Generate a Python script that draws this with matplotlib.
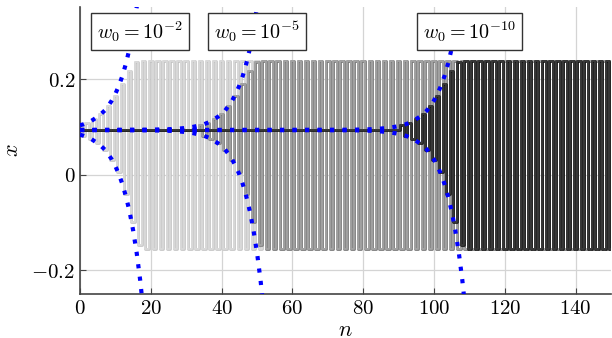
import numpy as np
import matplotlib
matplotlib.use('Agg')
import matplotlib.pyplot as plt
import matplotlib.patheffects as pe
from matplotlib.ticker import FuncFormatter

plt.rcParams['mathtext.fontset'] = 'cm'
plt.rcParams['font.family'] = ['DejaVu Serif']

# --- data ---
n_max = 150
x_fixed = 0.094                 # fixed point
orbit = [0.238, -0.155]         # period-2 orbit after saturation
# trajectory values from the step where it leaves the fixed point
transition = [0.104, 0.082, 0.109, 0.076, 0.117, 0.066, 0.128, 0.053,
              0.145, 0.032, 0.165, 0.005, 0.190, -0.040, 0.217, -0.100,
              0.236, -0.147, 0.238, -0.155]
traj_start = [0, 34, 91]
traj_colors = ['#dadada', '#a4a4a4', '#3a3a3a']
traj_edges = ['#c2c2c2', '#7a7a7a', '#111111']
labels = [r'$w_0 = 10^{-2}$', r'$w_0 = 10^{-5}$', r'$w_0 = 10^{-10}$']
label_n = [17, 50, 110]
label_y = 0.300

# envelope deviation from the fixed point, relative to the start step
env_k = [-14, -10, -8, -6, -4, -2, 0, 1, 2, 3, 4, 5, 6, 7, 8, 9, 10, 11,
         12, 13, 14, 15, 16, 17, 18]
env_dev = [0.0006, 0.0013, 0.002, 0.003, 0.0044, 0.0067, 0.010, 0.012,
           0.015, 0.018, 0.023, 0.028, 0.034, 0.041, 0.051, 0.062, 0.076,
           0.093, 0.114, 0.140, 0.171, 0.210, 0.257, 0.315, 0.386]


def build_traj(start):
    vals = [x_fixed] * start + list(transition)
    while len(vals) < n_max + 1:
        vals += orbit
    return np.array(vals[:n_max + 1])


def build_env(start):
    k = np.array(env_k)
    d = np.array(env_dev)
    keep = start + k >= 0
    nn = start + k[keep]
    dd = d[keep]
    if start > 0:
        nn = np.concatenate([[0], nn])
        dd = np.concatenate([[0.0], dd])
    return nn, dd


fig = plt.figure(figsize=(6.12, 3.38), dpi=100)
ax = fig.add_axes([80 / 612, 1 - 294 / 338, 531 / 612, 287 / 338])

n = np.arange(n_max + 1)
for s, c, e in zip(traj_start, traj_colors, traj_edges):
    ax.step(n, build_traj(s), where='mid', color=c, lw=1.3, zorder=2,
            path_effects=[pe.Stroke(linewidth=1.9, foreground=e), pe.Normal()])

for s in traj_start:
    nn, dd = build_env(s)
    for sign in (1, -1):
        ax.plot(nn, x_fixed + sign * dd, color='#0000ff', lw=3,
                linestyle=(0, (1, 2)), dash_capstyle='butt', zorder=4)

for lab, xn in zip(labels, label_n):
    ax.text(xn, label_y, lab, fontsize=14.5, ha='center', va='center', zorder=6,
            bbox=dict(boxstyle='square,pad=0.3', fc='white', ec='#333333', lw=1))

ax.set_xlim(0, n_max)
ax.set_ylim(-0.25, 0.352)
ax.set_xticks(np.arange(0, 141, 20))
ax.set_yticks([-0.2, 0, 0.2])
fmt = FuncFormatter(lambda v, p: f'${v:g}$')
ax.xaxis.set_major_formatter(fmt)
ax.yaxis.set_major_formatter(fmt)
ax.tick_params(direction='in', length=4, labelsize=15, color='#444444')
ax.grid(True, color='#d4d4d4', lw=0.9, zorder=0)
ax.set_axisbelow(True)
for side in ('top', 'right'):
    ax.spines[side].set_visible(False)
for side in ('left', 'bottom'):
    ax.spines[side].set_color('#444444')
    ax.spines[side].set_linewidth(1.2)
ax.set_xlabel(r'$n$', fontsize=16, labelpad=1)
ax.set_ylabel(r'$x$', fontsize=16, labelpad=6)

fig.savefig('out.png', dpi=100)
